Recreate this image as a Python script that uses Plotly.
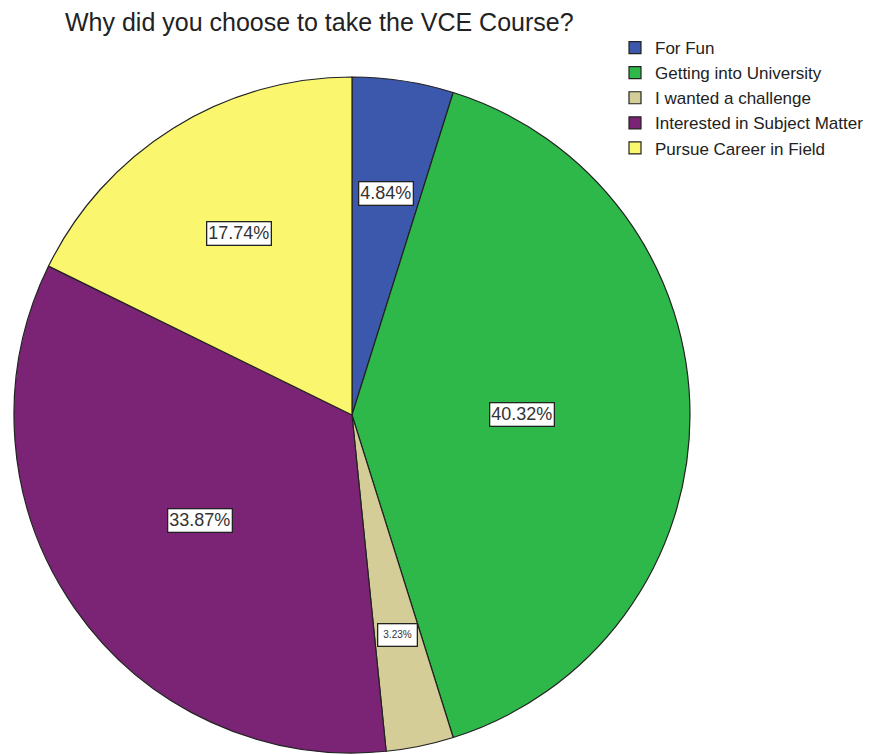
import math
import plotly.graph_objects as go

categories = ["For Fun", "Getting into University", "I wanted a challenge",
              "Interested in Subject Matter", "Pursue Career in Field"]
percentages = [4.84, 40.32, 3.23, 33.87, 17.74]
label_texts = ["4.84%", "40.32%", "3.23%", "33.87%", "17.74%"]
colors = ["#3C58AC", "#2EB84A", "#D5CD98", "#7B2476", "#FAF66E"]

W, H = 881, 755
# pie geometry (pixels, figure frame)
cx_px, cy_px, R = 344, 407, 338
dom_x = [(cx_px - R) / W, (cx_px + R) / W]
dom_y = [(H - cy_px - R) / H, (H - cy_px + R) / H]

fig = go.Figure(go.Pie(
    labels=categories,
    values=percentages,
    sort=False,
    direction="clockwise",
    rotation=0,
    marker=dict(colors=colors, line=dict(color="#222222", width=1.2)),
    textinfo="none",
    hoverinfo="label+percent",
    domain=dict(x=dom_x, y=dom_y),
))

# boxed labels placed at each slice's centroid
total = sum(percentages)
cum = 0.0
annotations = []
for v, t in zip(percentages, label_texts):
    frac = v / total
    mid = (cum + frac / 2) * 2 * math.pi
    alpha = frac * math.pi
    d = 2 * math.sin(alpha) / (3 * alpha)
    px = cx_px + d * R * math.sin(mid)
    py = cy_px - d * R * math.cos(mid)
    small = v < 4
    annotations.append(dict(
        x=px / W, y=1 - py / H, xref="paper", yref="paper",
        xanchor="center", yanchor="middle",
        text=t, showarrow=False,
        font=dict(family="Liberation Sans, Arial", size=10 if small else 18, color="#333333"),
        bgcolor="white", bordercolor="#222222", borderwidth=1.3,
        borderpad=5 if small else 1,
    ))
    cum += frac

fig.update_layout(
    width=W, height=H,
    margin=dict(l=0, r=0, t=0, b=0),
    paper_bgcolor="white",
    plot_bgcolor="white",
    title=dict(text="Why did you choose to take the VCE Course?",
               x=57 / W, xanchor="left", y=1 - 14 / H, yanchor="middle",
               font=dict(family="Liberation Sans, Arial", size=25, color="#222222")),
    legend=dict(x=607 / W, xanchor="left", y=1 - 22 / H, yanchor="top",
                font=dict(family="Liberation Sans, Arial", size=17, color="#222222"),
                itemwidth=30, tracegroupgap=0, bgcolor="rgba(0,0,0,0)"),
    annotations=annotations,
)

fig.write_html("out.html")
